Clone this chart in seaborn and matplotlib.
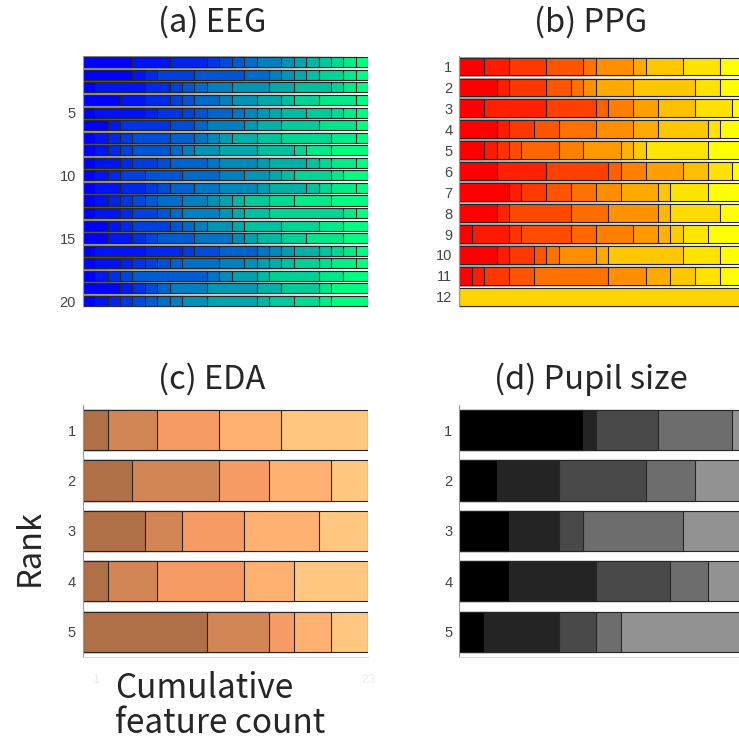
import numpy as np
import pandas as pd
import matplotlib
matplotlib.use('Agg')
import matplotlib.pyplot as plt
import seaborn as sns

# segment widths (feature counts) per rank, each row adds up to 23
eeg_widths = [
    [4, 3, 3, 1, 1, 1, 1, 2, 1, 1, 1, 1, 1, 1, 1],
    [4, 1, 1, 3, 4, 2, 1, 1, 1, 1, 2, 1, 1],
    [1, 4, 2, 1, 1, 1, 2, 3, 2, 3, 1, 1, 1],
    [3, 2, 2, 1, 1, 2, 1, 2, 2, 1, 2, 3, 1],
    [1, 4, 1, 2, 1, 1, 2, 1, 1, 1, 1, 2, 2, 1, 1, 1],
    [2, 1, 4, 2, 1, 3, 1, 2, 3, 3, 1],
    [1, 1, 1, 1, 3, 2, 1, 1, 1, 2, 2, 4, 2, 1],
    [1, 1, 1, 1, 3, 1, 1, 2, 3, 3, 1, 2, 3],
    [1, 2, 1, 2, 1, 3, 1, 3, 1, 3, 1, 1, 2, 1],
    [1, 1, 1, 2, 3, 3, 2, 2, 1, 1, 3, 1, 2],
    [1, 2, 2, 1, 1, 2, 2, 3, 1, 3, 1, 1, 2, 1],
    [1, 1, 1, 1, 1, 1, 2, 2, 1, 1, 1, 2, 2, 3, 3],
    [1, 2, 1, 2, 1, 1, 3, 1, 1, 2, 6, 1, 1],
    [2, 1, 1, 3, 1, 1, 1, 2, 1, 3, 3, 2, 2],
    [2, 2, 1, 1, 3, 3, 1, 1, 2, 2, 3, 2],
    [1, 4, 3, 1, 2, 3, 1, 1, 1, 2, 1, 1, 1, 1],
    [1, 2, 1, 1, 1, 1, 1, 3, 2, 1, 1, 1, 1, 2, 1, 2, 1],
    [1, 1, 1, 1, 6, 1, 1, 2, 1, 4, 2, 2],
    [3, 1, 1, 1, 1, 3, 4, 2, 3, 1, 3],
    [1, 1, 1, 1, 1, 1, 1, 1, 2, 4, 1, 2, 2, 1, 3],
]

ppg_widths = [
    [2, 2, 3, 3, 1, 3, 1, 3, 3, 2],
    [3, 1, 3, 2, 1, 1, 3, 5, 2, 2],
    [2, 5, 4, 1, 2, 2, 3, 3, 1],
    [3, 1, 2, 2, 3, 3, 2, 4, 1, 2],
    [2, 1, 1, 1, 3, 2, 3, 1, 1, 5, 3],
    [3, 4, 5, 1, 2, 3, 2, 2, 1],
    [4, 1, 2, 2, 2, 2, 3, 1, 3, 3],
    [3, 1, 5, 3, 4, 1, 4, 2],
    [1, 3, 1, 4, 2, 3, 2, 1, 1, 2, 3],
    [3, 1, 2, 1, 1, 3, 1, 6, 3, 2],
    [1, 1, 2, 2, 6, 3, 2, 2, 2, 2],
    [23],
]

eda_widths = [
    [2, 4, 5, 5, 7],
    [4, 7, 4, 5, 3],
    [5, 3, 5, 6, 4],
    [2, 4, 7, 4, 6],
    [10, 5, 2, 3, 3],
]

pupil_widths = [
    [10, 1, 5, 6, 1],
    [3, 5, 7, 4, 4],
    [4, 4, 2, 8, 5],
    [4, 7, 6, 3, 3],
    [2, 6, 3, 2, 10],
]

eda_levels = [5 / 9, 6 / 9, 7 / 9, 8 / 9, 1.0]
pupil_levels = [0, 1 / 7, 2 / 7, 3 / 7, 4 / 7]
ppg_single_level = 0.83


def spread(widths, single=1.0):
    # colour level runs along the segments of each row
    out = []
    for w in widths:
        n = len(w)
        out.append([j / (n - 1) for j in range(n)] if n > 1 else [single])
    return out


def make_df(widths, levels, cmap_name):
    cmap = plt.get_cmap(cmap_name)
    recs = []
    for r, (w, lv) in enumerate(zip(widths, levels), start=1):
        ends = np.cumsum(w)
        for j, (e, t) in enumerate(zip(ends, lv)):
            recs.append({'rank': str(r), 'seg': f'{r}-{j}', 'j': j,
                         'end': e, 'color': cmap(t)})
    return pd.DataFrame(recs)


def draw(ax, df, n_rows, bar_h):
    # longest cumulative bars first, shorter ones on top -> stacked look
    df = df.sort_values('j', ascending=False, kind='stable')
    pal = dict(zip(df['seg'], df['color']))
    sns.barplot(data=df, x='end', y='rank', hue='seg', hue_order=list(df['seg']),
                order=[str(i) for i in range(1, n_rows + 1)], palette=pal,
                dodge=False, orient='h', width=bar_h, saturation=1,
                errorbar=None, legend=False, edgecolor='0.15', linewidth=0.8, ax=ax)
    ax.set_xlim(0, 23)
    ax.set_ylim(n_rows - 0.5, -0.5)
    ax.set_xlabel('')
    ax.set_ylabel('')
    for s in ['top', 'right']:
        ax.spines[s].set_visible(False)
    ax.spines['left'].set_color('0.6')
    ax.spines['left'].set_linewidth(0.8)
    ax.spines['bottom'].set_color('0.88')
    ax.spines['bottom'].set_linewidth(0.8)
    ax.tick_params(axis='y', direction='in', length=3, width=0.6, color='0.3',
                   labelsize=10.5, labelcolor='0.27', pad=5)
    ax.tick_params(axis='x', direction='in', length=3, width=0.6, color='0.85',
                   labelsize=9, labelcolor='0.93')


sns.set_style('white')
plt.rcParams['font.family'] = ['Noto Sans CJK KR', 'DejaVu Sans']

fig = plt.figure(figsize=(7.39, 7.47), dpi=100)
W, H = 739, 747

ax_a = fig.add_axes([82.7 / W, 1 - 307.3 / H, 285.6 / W, 251.3 / H])
ax_b = fig.add_axes([459.3 / W, 1 - 307.3 / H, 285.6 / W, 251.3 / H])
ax_c = fig.add_axes([82.7 / W, 1 - 656.9 / H, 285.6 / W, 252.1 / H])
ax_d = fig.add_axes([459.3 / W, 1 - 656.9 / H, 285.6 / W, 252.1 / H])

draw(ax_a, make_df(eeg_widths, spread(eeg_widths), 'winter'), 20, 0.8)
draw(ax_b, make_df(ppg_widths, spread(ppg_widths, ppg_single_level), 'autumn'), 12, 0.85)
draw(ax_c, make_df(eda_widths, [eda_levels] * 5, 'copper'), 5, 0.8)
draw(ax_d, make_df(pupil_widths, [pupil_levels] * 5, 'gray'), 5, 0.8)

ax_a.set_yticks([4, 9, 14, 19], ['5', '10', '15', '20'])
ax_a.set_xticks([5, 10, 15, 20], [])
ax_b.set_yticks(range(12), [str(i) for i in range(1, 13)])
ax_b.set_xticks([5, 10, 15, 20], [])
ax_c.set_yticks(range(5), [str(i) for i in range(1, 6)])
ax_c.set_xticks([1, 23], ['1', '23'])
ax_c.tick_params(axis='x', length=0, pad=12)
ax_d.set_yticks(range(5), [str(i) for i in range(1, 6)])
ax_d.set_xticks([])
for ax in [ax_a, ax_b, ax_c, ax_d]:
    for lab in ax.get_yticklabels() + ax.get_xticklabels():
        lab.set_family('Liberation Sans')

fs = 23.5
fig.text(212 / W, 1 - 22 / H, '(a) EEG', ha='center', va='center', fontsize=fs)
fig.text(591 / W, 1 - 22 / H, '(b) PPG', ha='center', va='center', fontsize=fs)
fig.text(212 / W, 1 - 379 / H, '(c) EDA', ha='center', va='center', fontsize=fs)
fig.text(591 / W, 1 - 379 / H, '(d) Pupil size', ha='center', va='center', fontsize=fs)
fig.text(30 / W, 1 - 548 / H, 'Rank', rotation=90, ha='center', va='center', fontsize=fs)
fig.text(115 / W, 1 - 706 / H, 'Cumulative\nfeature count', ha='left', va='center',
         multialignment='left', linespacing=1.0, fontsize=fs + 0.5)

fig.savefig('out.png', dpi=100)
